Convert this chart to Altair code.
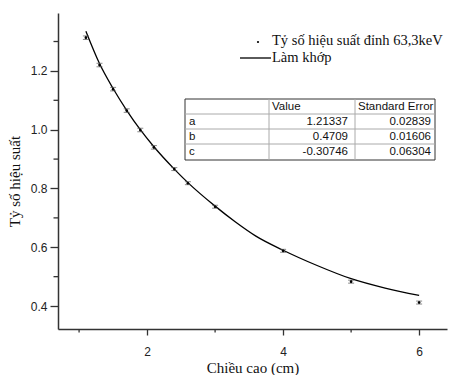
import altair as alt
import pandas as pd

# ---------------- data ----------------
heights = [1.1, 1.3, 1.5, 1.7, 1.9, 2.1, 2.4, 2.6, 3.0, 4.0, 5.0, 6.0]
ratios = [1.313, 1.220, 1.138, 1.065, 0.999, 0.940, 0.866, 0.818, 0.738, 0.588, 0.483, 0.412]
ratio_err = [0.006, 0.006, 0.006, 0.006, 0.006, 0.006, 0.005, 0.005, 0.005, 0.005, 0.005, 0.005]

fit_x = [1.1, 1.3, 1.5, 1.7, 1.9, 2.1, 2.4, 2.6, 3.0, 3.3, 3.6, 4.0, 4.5, 5.0, 5.5, 6.0]
fit_y = [1.335, 1.225, 1.140, 1.066, 1.000, 0.942, 0.866, 0.820, 0.740, 0.686, 0.638, 0.590,
         0.538, 0.493, 0.461, 0.436]

param_names = ["a", "b", "c"]
param_values = ["1.21337", "0.4709", "-0.30746"]
param_errors = ["0.02839", "0.01606", "0.06304"]
table_headers = ["", "Value", "Standard Error"]

legend_labels = ["Tỷ số hiệu suất đỉnh 63,3keV", "Làm khớp"]
x_title = "Chiều cao (cm)"
y_title = "Tỷ số hiệu suất"
x_major = [2, 4, 6]
x_minor = [1, 3, 5]
y_major = [0.4, 0.6, 0.8, 1.0, 1.2]
y_minor = [0.5, 0.7, 0.9, 1.1, 1.3]

# ---------------- layout ----------------
W, H = 389, 316
SERIF = "Liberation Serif"
SANS = "Liberation Sans"
AX = "#333333"

xs = alt.Scale(domain=[0.69, 6.41], nice=False, zero=False)
ys = alt.Scale(domain=[0.322, 1.397], nice=False, zero=False)

pts = pd.DataFrame({"h": heights, "r": ratios, "e": ratio_err})
pts["lo"] = pts["r"] - pts["e"]
pts["hi"] = pts["r"] + pts["e"]
fit = pd.DataFrame({"h": fit_x, "r": fit_y})

x_axis = alt.Axis(values=x_major, format="d", title=x_title, grid=False,
                  domainColor=AX, domainWidth=1.5, tickColor=AX, tickWidth=1.3,
                  tickSize=6, labelFont=SANS, labelFontSize=12, labelColor="#222",
                  labelPadding=11, titleFont=SERIF, titleFontSize=15,
                  titleFontWeight="normal", titleColor="#111", titleY=38,
                  titleBaseline="middle")
y_axis = alt.Axis(values=y_major, format=".1f", title=y_title, grid=False,
                  domainColor=AX, domainWidth=1.5, tickColor=AX, tickWidth=1.3,
                  tickSize=8, labelFont=SANS, labelFontSize=12, labelColor="#222",
                  labelPadding=3, titleFont=SERIF, titleFontSize=15,
                  titleFontWeight="normal", titleColor="#111", titleX=-44,
                  titleY=168, titleBaseline="middle", titleAlign="center", titleAngle=270)


def X(f):
    return alt.X(f, scale=xs, axis=x_axis)


def Y(f):
    return alt.Y(f, scale=ys, axis=y_axis)


points = alt.Chart(pts).mark_circle(size=7, color="black", opacity=1).encode(
    x=X("h:Q"), y=Y("r:Q"))
err_rule = alt.Chart(pts).mark_rule(color="#444", strokeWidth=1).encode(
    x=X("h:Q"), y=Y("lo:Q"), y2="hi:Q")
cap_lo = alt.Chart(pts).mark_tick(orient="horizontal", size=6, thickness=1, color="#555").encode(
    x=X("h:Q"), y=Y("lo:Q"))
cap_hi = alt.Chart(pts).mark_tick(orient="horizontal", size=6, thickness=1, color="#555").encode(
    x=X("h:Q"), y=Y("hi:Q"))
fit_line = alt.Chart(fit).mark_line(color="black", strokeWidth=1.3, interpolate="monotone").encode(
    x=X("h:Q"), y=Y("r:Q"))

# minor ticks
xmin_ticks = alt.Chart(pd.DataFrame({"v": x_minor})).mark_rule(color=AX, strokeWidth=1.3).encode(
    x=X("v:Q"), y=alt.value(H), y2=alt.value(H + 3.5))
ymin_ticks = alt.Chart(pd.DataFrame({"v": y_minor})).mark_rule(color=AX, strokeWidth=1.3).encode(
    y=Y("v:Q"), x=alt.value(-4.5), x2=alt.value(0))

# ---------------- legend (pixel layout) ----------------
leg_dot = alt.Chart(pd.DataFrame({"k": [0]})).mark_circle(size=5, color="black", opacity=1).encode(
    x=alt.value(200), y=alt.value(29))
leg_line = alt.Chart(pd.DataFrame({"k": [0]})).mark_rule(color="black", strokeWidth=1.3).encode(
    x=alt.value(182), x2=alt.value(213), y=alt.value(45))
leg_df = pd.DataFrame({"label": legend_labels, "py": [28, 45]})
leg_text = alt.Chart(leg_df).mark_text(align="left", baseline="middle", font=SERIF,
                                       fontSize=14.5, color="#111").encode(
    x=alt.value(214), y=alt.Y("py:Q", scale=None), text="label:N")

# ---------------- parameter table (pixel layout) ----------------
TL, TR, TT, TB = 127, 377, 86, 147
row_lines = [101, 116, 131]
col_lines = [211, 297]
row_mid = [93.5, 108.5, 123.5, 139]

tbl_box = alt.Chart(pd.DataFrame({"k": [0]})).mark_rect(fill="white", stroke="#333",
                                                       strokeWidth=1).encode(
    x=alt.value(TL), x2=alt.value(TR), y=alt.value(TT), y2=alt.value(TB))
hl = alt.Chart(pd.DataFrame({"py": row_lines})).mark_rule(color="#aaa", strokeWidth=1).encode(
    x=alt.value(TL), x2=alt.value(TR), y=alt.Y("py:Q", scale=None))
vl = alt.Chart(pd.DataFrame({"px": col_lines})).mark_rule(color="#aaa", strokeWidth=1).encode(
    x=alt.X("px:Q", scale=None), y=alt.value(TT), y2=alt.value(TB))

left_cells = pd.DataFrame({
    "t": [table_headers[1], table_headers[2]] + param_names,
    "px": [214, 300] + [131] * 3,
    "py": [row_mid[0], row_mid[0]] + row_mid[1:],
})
right_cells = pd.DataFrame({
    "t": param_values + param_errors,
    "px": [290] * 3 + [373] * 3,
    "py": row_mid[1:] * 2,
})
tl = alt.Chart(left_cells).mark_text(align="left", baseline="middle", font=SANS,
                                     fontSize=11.5, color="#111").encode(
    x=alt.X("px:Q", scale=None), y=alt.Y("py:Q", scale=None), text="t:N")
tr = alt.Chart(right_cells).mark_text(align="right", baseline="middle", font=SANS,
                                      fontSize=11.5, color="#111").encode(
    x=alt.X("px:Q", scale=None), y=alt.Y("py:Q", scale=None), text="t:N")

chart = alt.layer(
    fit_line, err_rule, cap_lo, cap_hi, points, xmin_ticks, ymin_ticks,
    leg_dot, leg_line, leg_text, tbl_box, hl, vl, tl, tr,
).properties(
    width=W, height=H,
    autosize=alt.AutoSizeParams(type="none"),
    padding={"left": 58, "top": 13, "right": 6, "bottom": 46},
    background="white",
).configure_view(stroke=None)

chart.save("out.html", embed_options={"renderer": "svg", "actions": False})
